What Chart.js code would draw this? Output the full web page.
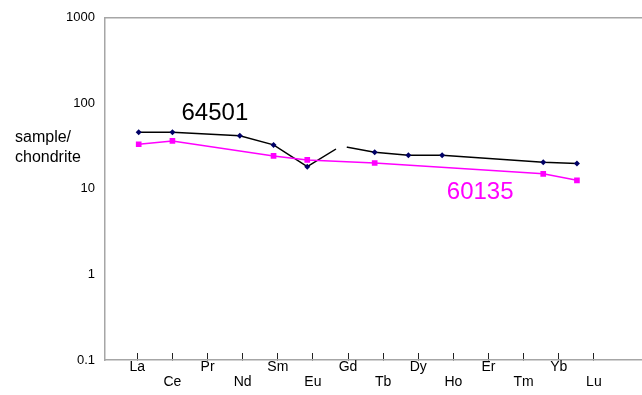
<!DOCTYPE html>
<html>
<head>
<meta charset="utf-8">
<title>REE pattern</title>
<script src="https://cdn.jsdelivr.net/npm/chart.js@4/dist/chart.umd.min.js"></script>
<style>
  html, body { margin: 0; padding: 0; background: #ffffff; }
  #wrap { width: 642px; height: 395px; }
</style>
</head>
<body>
<div id="wrap"><canvas id="c" width="642" height="395"></canvas></div>
<script>
// Rare earth elements along the x axis
const elements = ['La', 'Ce', 'Pr', 'Nd', 'Sm', 'Eu', 'Gd', 'Tb', 'Dy', 'Ho', 'Er', 'Tm', 'Yb', 'Lu'];

// Chondrite-normalised abundances (null = not measured)
const sample64501 = [46.0, 46.0, null, 41.7, 32.7, 18.2, 31.8, 26.9, 24.8, 24.8, null, null, 20.5, 19.8];
const sample60135 = [33.3, 36.4, null, null, 24.3, 21.8, null, 20.1, null, null, null, null, 15.0, 12.6];

// Log axis tick values
const yTickValues = [0.1, 1, 10, 100, 1000];

const AXIS_GREY = '#a6a6a6';
const FONT = '"Liberation Sans", Arial, Helvetica, sans-serif';
Chart.defaults.font.family = FONT;

const gdIndex = elements.indexOf('Gd');
const toPoints = vals => vals.map((v, i) => ({ x: i + 1, y: v }));

// Extra drawing: top frame line, axis caption and series names
const annotations = {
  id: 'annotations',
  afterDatasetsDraw(chart) {
    const { ctx, chartArea, scales } = chart;
    ctx.save();
    ctx.strokeStyle = AXIS_GREY;
    ctx.lineWidth = 1.5;
    ctx.beginPath();
    ctx.moveTo(chartArea.left, chartArea.top);
    ctx.lineTo(chartArea.right, chartArea.top);
    ctx.stroke();

    ctx.fillStyle = '#000';
    ctx.font = '16px ' + FONT;
    ctx.textAlign = 'left';
    ctx.textBaseline = 'middle';
    ctx.fillText('sample/', 15, 138);
    ctx.fillText('chondrite', 15, 158);

    const names = [
      { text: '64501', color: '#000000', x: 3.26, y: 76 },
      { text: '60135', color: '#ff00ff', x: 11.13, y: 9.1 }
    ];
    ctx.font = '24px ' + FONT;
    ctx.textAlign = 'center';
    names.forEach(n => {
      ctx.fillStyle = n.color;
      ctx.fillText(n.text, scales.x.getPixelForValue(n.x), scales.y.getPixelForValue(n.y));
    });
    ctx.restore();
  }
};

new Chart(document.getElementById('c'), {
  type: 'line',
  data: {
    datasets: [
      {
        label: '60135',
        data: toPoints(sample60135),
        borderColor: '#ff00ff',
        backgroundColor: '#ff00ff',
        borderWidth: 1.5,
        pointStyle: 'rect',
        pointRadius: 4,
        pointBackgroundColor: '#ff00ff',
        pointBorderColor: '#ff00ff',
        pointBorderWidth: 0,
        spanGaps: true,
        tension: 0,
        order: 0,
        xAxisID: 'x',
        yAxisID: 'y'
      },
      {
        label: '64501',
        data: toPoints(sample64501),
        borderColor: '#000000',
        backgroundColor: '#000066',
        borderWidth: 1.5,
        pointStyle: c => (c.dataIndex === gdIndex ? 'circle' : 'rectRot'),
        pointRadius: c => (c.dataIndex === gdIndex ? 6 : 3),
        pointBackgroundColor: c => (c.dataIndex === gdIndex ? '#ffffff' : '#000066'),
        pointBorderColor: c => (c.dataIndex === gdIndex ? '#ffffff' : '#000066'),
        pointBorderWidth: 0,
        spanGaps: true,
        tension: 0,
        order: 1,
        xAxisID: 'x',
        yAxisID: 'y'
      }
    ]
  },
  options: {
    responsive: false,
    animation: false,
    devicePixelRatio: 1,
    layout: { autoPadding: false, padding: { top: 17, left: 0, right: 0, bottom: 0 } },
    plugins: {
      legend: { display: false },
      title: { display: false },
      tooltip: { enabled: false }
    },
    scales: {
      x: {
        type: 'linear',
        display: false,
        min: 0,
        max: 15.93
      },
      xt: {
        type: 'linear',
        position: 'bottom',
        min: 0.08,
        max: 15.37,
        afterBuildTicks: s => { s.ticks = elements.map((e, i) => ({ value: i + 1 })); },
        afterFit: s => { s.height = 35; },
        ticks: {
          autoSkip: false,
          maxRotation: 0,
          minRotation: 0,
          padding: 6,
          color: '#000',
          font: { size: 14, lineHeight: 1.1 },
          callback: v => {
            const i = Math.round(v) - 1;
            return i % 2 === 0 ? elements[i] : ['', elements[i]];
          }
        },
        grid: {
          display: true,
          drawOnChartArea: false,
          drawTicks: true,
          tickLength: -7,
          color: '#222',
          lineWidth: 1
        },
        border: { display: true, color: AXIS_GREY, width: 1.5 }
      },
      y: {
        type: 'logarithmic',
        position: 'left',
        min: 0.1,
        max: 1000,
        afterBuildTicks: s => { s.ticks = yTickValues.map(v => ({ value: v })); },
        afterFit: s => { s.width = 105; },
        ticks: {
          padding: 10,
          color: '#000',
          font: { size: 13 },
          callback: v => String(v)
        },
        grid: { display: false, drawTicks: false },
        border: { display: true, color: AXIS_GREY, width: 1.5 }
      }
    }
  },
  plugins: [annotations]
});
</script>
</body>
</html>
